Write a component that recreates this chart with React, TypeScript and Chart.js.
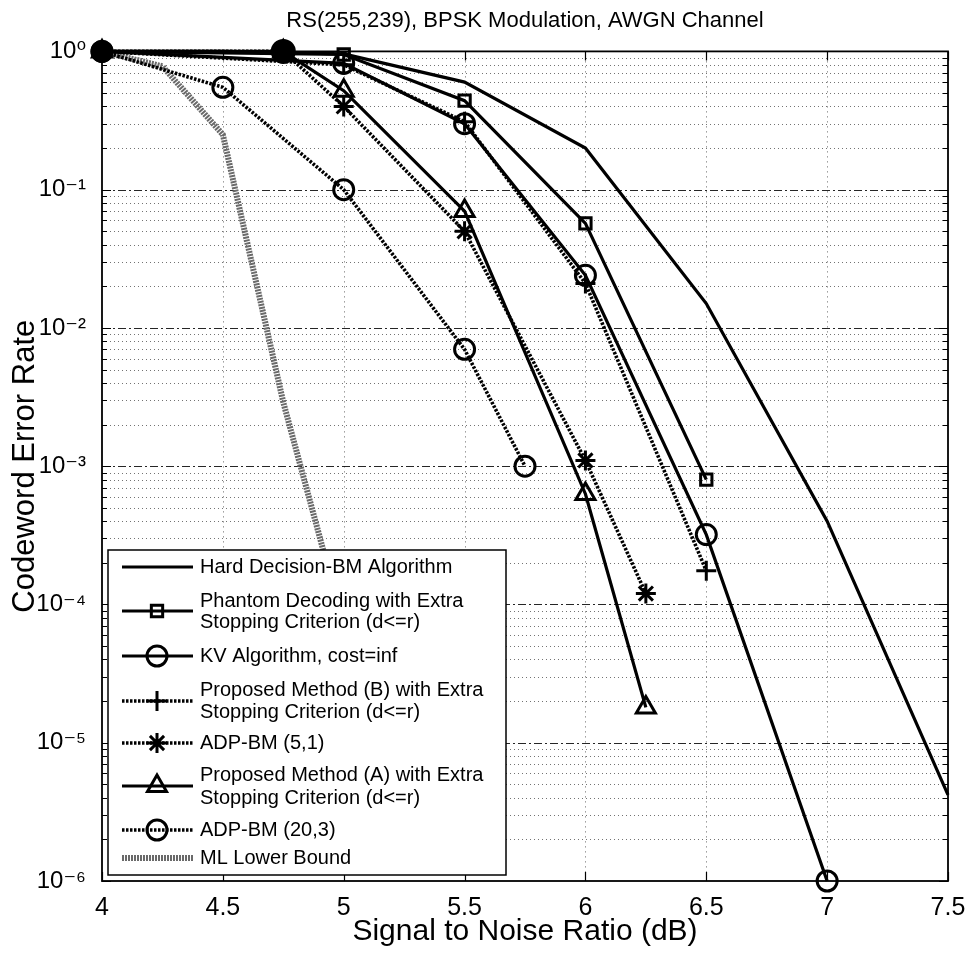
import React, { useEffect, useRef } from 'react';
import { Chart, registerables } from 'chart.js';

Chart.register(...registerables);

// ---------- text ----------
const titleText = 'RS(255,239), BPSK Modulation, AWGN Channel';
const xTitleText = 'Signal to Noise Ratio (dB)';
const yTitleText = 'Codeword Error Rate';

// ---------- ticks ----------
const xTicks = [4, 4.5, 5, 5.5, 6, 6.5, 7, 7.5];
const yTickExponents = [0, -1, -2, -3, -4, -5, -6];

// ---------- data ----------
const hardSnr = [4, 4.5, 5, 5.5, 6, 6.5, 7, 7.5];
const hardCer = [1, 1, 0.96, 0.6, 0.2, 0.015, 4e-4, 4.2e-6];

const phantomSnr = [4, 5, 5.5, 6, 6.5];
const phantomCer = [1, 0.95, 0.44, 0.057, 8e-4];

const kvSnr = [4, 5, 5.5, 6, 6.5, 7];
const kvCer = [1, 0.82, 0.3, 0.024, 3.2e-4, 1e-6];

const propBSnr = [4, 5, 5.5, 6, 6.5];
const propBCer = [1, 0.8, 0.31, 0.021, 1.75e-4];

const adp51Snr = [4, 4.75, 5, 5.5, 6, 6.25];
const adp51Cer = [1, 1, 0.4, 0.05, 1.1e-3, 1.2e-4];

const propASnr = [4, 4.75, 5, 5.5, 6, 6.25];
const propACer = [1, 1, 0.52, 0.07, 6.3e-4, 1.8e-5];

const adp203Snr = [4, 4.5, 5, 5.5, 5.75];
const adp203Cer = [1, 0.55, 0.1, 7e-3, 1e-3];

const mlSnr = [4, 4.25, 4.5, 4.75, 5];
const mlCer = [1, 0.78, 0.25, 2.9e-3, 7e-5];

const legendLabels = [
  ['Hard Decision-BM Algorithm'],
  ['Phantom Decoding with Extra', 'Stopping Criterion (d<=r)'],
  ['KV Algorithm, cost=inf'],
  ['Proposed Method (B) with Extra', 'Stopping Criterion (d<=r)'],
  ['ADP-BM (5,1)'],
  ['Proposed Method (A) with Extra', 'Stopping Criterion (d<=r)'],
  ['ADP-BM (20,3)'],
  ['ML Lower Bound'],
];

// ---------- styles ----------
const FONT = '"Liberation Sans", Arial, "DejaVu Sans", sans-serif';
const NARROW = '"Liberation Sans Narrow", "Liberation Sans", Arial, sans-serif';
const SOLID: number[] = [];
const DOTTED = [2.5, 1.5];
const ML_DASH = [2, 1];
const INK = '#000';
const ML_INK = '#6a6a6a';

type Style = { dash: number[]; width: number; color: string; marker: string | null; radius: number };
const styles: Style[] = [
  { dash: SOLID, width: 3.2, color: INK, marker: null, radius: 0 },
  { dash: SOLID, width: 3.2, color: INK, marker: 'rect', radius: 8 },
  { dash: SOLID, width: 3.2, color: INK, marker: 'circle', radius: 10 },
  { dash: DOTTED, width: 3.6, color: INK, marker: 'cross', radius: 10 },
  { dash: DOTTED, width: 3.6, color: INK, marker: 'star', radius: 10 },
  { dash: SOLID, width: 3.2, color: INK, marker: 'triangle', radius: 11 },
  { dash: DOTTED, width: 3.6, color: INK, marker: 'circle', radius: 10 },
  { dash: ML_DASH, width: 6, color: ML_INK, marker: null, radius: 0 },
];

const seriesSnr = [hardSnr, phantomSnr, kvSnr, propBSnr, adp51Snr, propASnr, adp203Snr, mlSnr];
const seriesCer = [hardCer, phantomCer, kvCer, propBCer, adp51Cer, propACer, adp203Cer, mlCer];

const supMap: Record<string, string> = {
  '0': '\u2070', '1': '\u00B9', '2': '\u00B2', '3': '\u00B3', '4': '\u2074',
  '5': '\u2075', '6': '\u2076', '7': '\u2077', '8': '\u2078', '9': '\u2079', '-': '\u207B',
};
const sup = (s: string) => s.split('').map((c) => supMap[c] || c).join('');

function drawMarker(ctx: CanvasRenderingContext2D, style: string, x: number, y: number, r: number) {
  ctx.beginPath();
  if (style === 'circle') {
    ctx.arc(x, y, r, 0, Math.PI * 2);
  } else if (style === 'rect') {
    const s = r * Math.SQRT1_2;
    ctx.rect(x - s, y - s, 2 * s, 2 * s);
  } else if (style === 'triangle') {
    let rad = 0;
    ctx.moveTo(x + Math.sin(rad) * r, y - Math.cos(rad) * r);
    rad += (2 * Math.PI) / 3;
    ctx.lineTo(x + Math.sin(rad) * r, y - Math.cos(rad) * r);
    rad += (2 * Math.PI) / 3;
    ctx.lineTo(x + Math.sin(rad) * r, y - Math.cos(rad) * r);
    ctx.closePath();
  } else if (style === 'cross' || style === 'star') {
    ctx.moveTo(x - r, y);
    ctx.lineTo(x + r, y);
    ctx.moveTo(x, y - r);
    ctx.lineTo(x, y + r);
    if (style === 'star') {
      const d = r * Math.SQRT1_2;
      ctx.moveTo(x - d, y - d);
      ctx.lineTo(x + d, y + d);
      ctx.moveTo(x - d, y + d);
      ctx.lineTo(x + d, y - d);
    }
  }
  ctx.stroke();
}

const gridPlugin = {
  id: 'matlabGrid',
  beforeDatasetsDraw(chart: any) {
    const { ctx, chartArea: a, scales } = chart;
    const xs = scales.x;
    const ys = scales.y;
    ctx.save();
    ctx.lineWidth = 1;
    // minor horizontal
    ctx.strokeStyle = 'rgba(0,0,0,0.55)';
    ctx.setLineDash([1, 3]);
    for (let e = -6; e < 0; e++) {
      for (let m = 2; m <= 9; m++) {
        const py = Math.round(ys.getPixelForValue(m * Math.pow(10, e))) + 0.5;
        ctx.beginPath();
        ctx.moveTo(a.left, py);
        ctx.lineTo(a.right, py);
        ctx.stroke();
      }
    }
    // major horizontal
    ctx.strokeStyle = 'rgba(0,0,0,0.85)';
    ctx.setLineDash([8, 3, 2, 3]);
    for (const e of yTickExponents) {
      const py = Math.round(ys.getPixelForValue(Math.pow(10, e))) + 0.5;
      if (py <= a.top + 1 || py >= a.bottom - 1) continue;
      ctx.beginPath();
      ctx.moveTo(a.left, py);
      ctx.lineTo(a.right, py);
      ctx.stroke();
    }
    // vertical
    ctx.strokeStyle = 'rgba(0,0,0,0.6)';
    ctx.setLineDash([1, 4]);
    for (const t of xTicks) {
      const px = Math.round(xs.getPixelForValue(t)) + 0.5;
      if (px <= a.left + 1 || px >= a.right - 1) continue;
      ctx.beginPath();
      ctx.moveTo(px, a.top);
      ctx.lineTo(px, a.bottom);
      ctx.stroke();
    }
    ctx.restore();
  },
  afterDatasetsDraw(chart: any) {
    const { ctx, chartArea: a, scales } = chart;
    const xs = scales.x;
    const ys = scales.y;
    ctx.save();
    ctx.setLineDash([]);
    ctx.strokeStyle = '#000';
    ctx.lineWidth = 1.2;
    // ticks inside
    ctx.beginPath();
    for (const t of xTicks) {
      const px = Math.round(xs.getPixelForValue(t)) + 0.5;
      ctx.moveTo(px, a.bottom);
      ctx.lineTo(px, a.bottom - 9);
      ctx.moveTo(px, a.top);
      ctx.lineTo(px, a.top + 9);
    }
    for (let e = -6; e <= 0; e++) {
      for (let m = 1; m <= 9; m++) {
        const v = m * Math.pow(10, e);
        if (v > 1) continue;
        const py = Math.round(ys.getPixelForValue(v)) + 0.5;
        const len = m === 1 ? 9 : 5;
        ctx.moveTo(a.left, py);
        ctx.lineTo(a.left + len, py);
        ctx.moveTo(a.right, py);
        ctx.lineTo(a.right - len, py);
      }
    }
    ctx.stroke();
    // box
    ctx.lineWidth = 1.8;
    ctx.strokeRect(a.left, a.top, a.right - a.left, a.bottom - a.top);
    ctx.restore();
  },
  afterDraw(chart: any) {
    const { ctx, chartArea: a } = chart;
    const L = a.left + 6;
    const T = a.bottom - 331;
    const W = 398;
    const H = 325;
    ctx.save();
    ctx.fillStyle = '#fff';
    ctx.fillRect(L, T, W, H);
    ctx.strokeStyle = '#000';
    ctx.lineWidth = 1.5;
    ctx.setLineDash([]);
    ctx.strokeRect(L, T, W, H);
    const rows = [
      { sample: 17, lines: [17] },
      { sample: 61, lines: [51, 72] },
      { sample: 106, lines: [106] },
      { sample: 151, lines: [140, 162] },
      { sample: 193, lines: [193] },
      { sample: 236, lines: [225, 248] },
      { sample: 280, lines: [280] },
      { sample: 308, lines: [308] },
    ];
    ctx.font = `20px ${FONT}`;
    ctx.textBaseline = 'middle';
    ctx.textAlign = 'left';
    rows.forEach((row, i) => {
      const st = styles[i];
      const y = T + row.sample;
      ctx.strokeStyle = st.color;
      ctx.lineWidth = st.width;
      ctx.setLineDash(st.dash);
      ctx.beginPath();
      ctx.moveTo(L + 14, y);
      ctx.lineTo(L + 85, y);
      ctx.stroke();
      if (st.marker) {
        ctx.setLineDash([]);
        ctx.lineWidth = 3;
        ctx.strokeStyle = '#000';
        drawMarker(ctx, st.marker, L + 49, y, st.radius);
      }
      ctx.fillStyle = '#000';
      legendLabels[i].forEach((txt, j) => {
        ctx.fillText(txt, L + 92, T + row.lines[j]);
      });
    });
    ctx.restore();
  },
};

function buildDatasets() {
  return seriesSnr.map((snr, i) => {
    const st = styles[i];
    const cer = seriesCer[i];
    const pointStyle = snr.map(() => st.marker || 'circle');
    const radius = snr.map(() => (st.marker ? st.radius : 0));
    const bg = snr.map(() => 'rgba(0,0,0,0)');
    if (i === 4) {
      // solid blob at 4.75 dB
      pointStyle[1] = 'circle';
      radius[1] = 11;
      bg[1] = '#000';
    }
    if (i === 6) {
      // blob at 4 dB
      bg[0] = '#000';
    }
    return {
      label: legendLabels[i].join(' '),
      data: snr.map((s, k) => ({ x: s, y: cer[k] })),
      borderColor: st.color,
      borderWidth: st.width,
      borderDash: st.dash,
      pointStyle,
      pointRadius: radius,
      pointBorderWidth: 3,
      pointBorderColor: '#000',
      pointBackgroundColor: bg,
      tension: 0,
      clip: false,
      fill: false,
      spanGaps: true,
    } as any;
  });
}

export default function App() {
  const ref = useRef<HTMLCanvasElement>(null);
  useEffect(() => {
    const canvas = ref.current;
    if (!canvas) return;
    const chart = new Chart(canvas, {
      type: 'line',
      data: { datasets: buildDatasets() },
      plugins: [gridPlugin],
      options: {
        responsive: false,
        maintainAspectRatio: false,
        devicePixelRatio: 1,
        animation: false,
        events: [],
        layout: { padding: { left: 0, right: 23, top: 0, bottom: 0 } },
        plugins: {
          legend: { display: false },
          tooltip: { enabled: false },
          title: {
            display: true,
            text: titleText,
            fullSize: false,
            color: '#000',
            font: { family: FONT, size: 22, weight: 'normal' },
            padding: { top: 8, bottom: 17 },
          },
        },
        scales: {
          x: {
            type: 'linear',
            min: 4,
            max: 7.5,
            afterBuildTicks: (s: any) => {
              s.ticks = xTicks.map((v) => ({ value: v }));
            },
            afterFit: (s: any) => {
              s.height = 74;
            },
            grid: { display: false },
            border: { display: false },
            ticks: {
              color: '#000',
              padding: 4,
              maxRotation: 0,
              autoSkip: false,
              font: { family: NARROW, size: 25 },
              callback: (v: any) => String(v),
            },
            title: {
              display: true,
              text: xTitleText,
              color: '#000',
              font: { family: NARROW, size: 30 },
              padding: { top: 0, bottom: 5 },
            },
          },
          y: {
            type: 'logarithmic',
            min: 1e-6,
            max: 1,
            afterBuildTicks: (s: any) => {
              s.ticks = yTickExponents.map((e) => ({ value: Math.pow(10, e) }));
            },
            afterFit: (s: any) => {
              s.width = 102;
            },
            grid: { display: false },
            border: { display: false },
            ticks: {
              color: '#000',
              padding: 8,
              autoSkip: false,
              font: { family: FONT, size: 24 },
              callback: (v: any) => '10' + sup(String(Math.round(Math.log10(v)))),
            },
            title: {
              display: true,
              text: yTitleText,
              color: '#000',
              font: { family: NARROW, size: 31 },
              padding: { top: 7, bottom: 0 },
            },
          },
        },
      } as any,
    });
    return () => chart.destroy();
  }, []);
  return (
    <div style={{ position: 'absolute', left: 0, top: 0, width: 971, height: 955, background: '#fff' }}>
      <canvas ref={ref} width={971} height={955} style={{ display: 'block', width: 971, height: 955 }} />
    </div>
  );
}
